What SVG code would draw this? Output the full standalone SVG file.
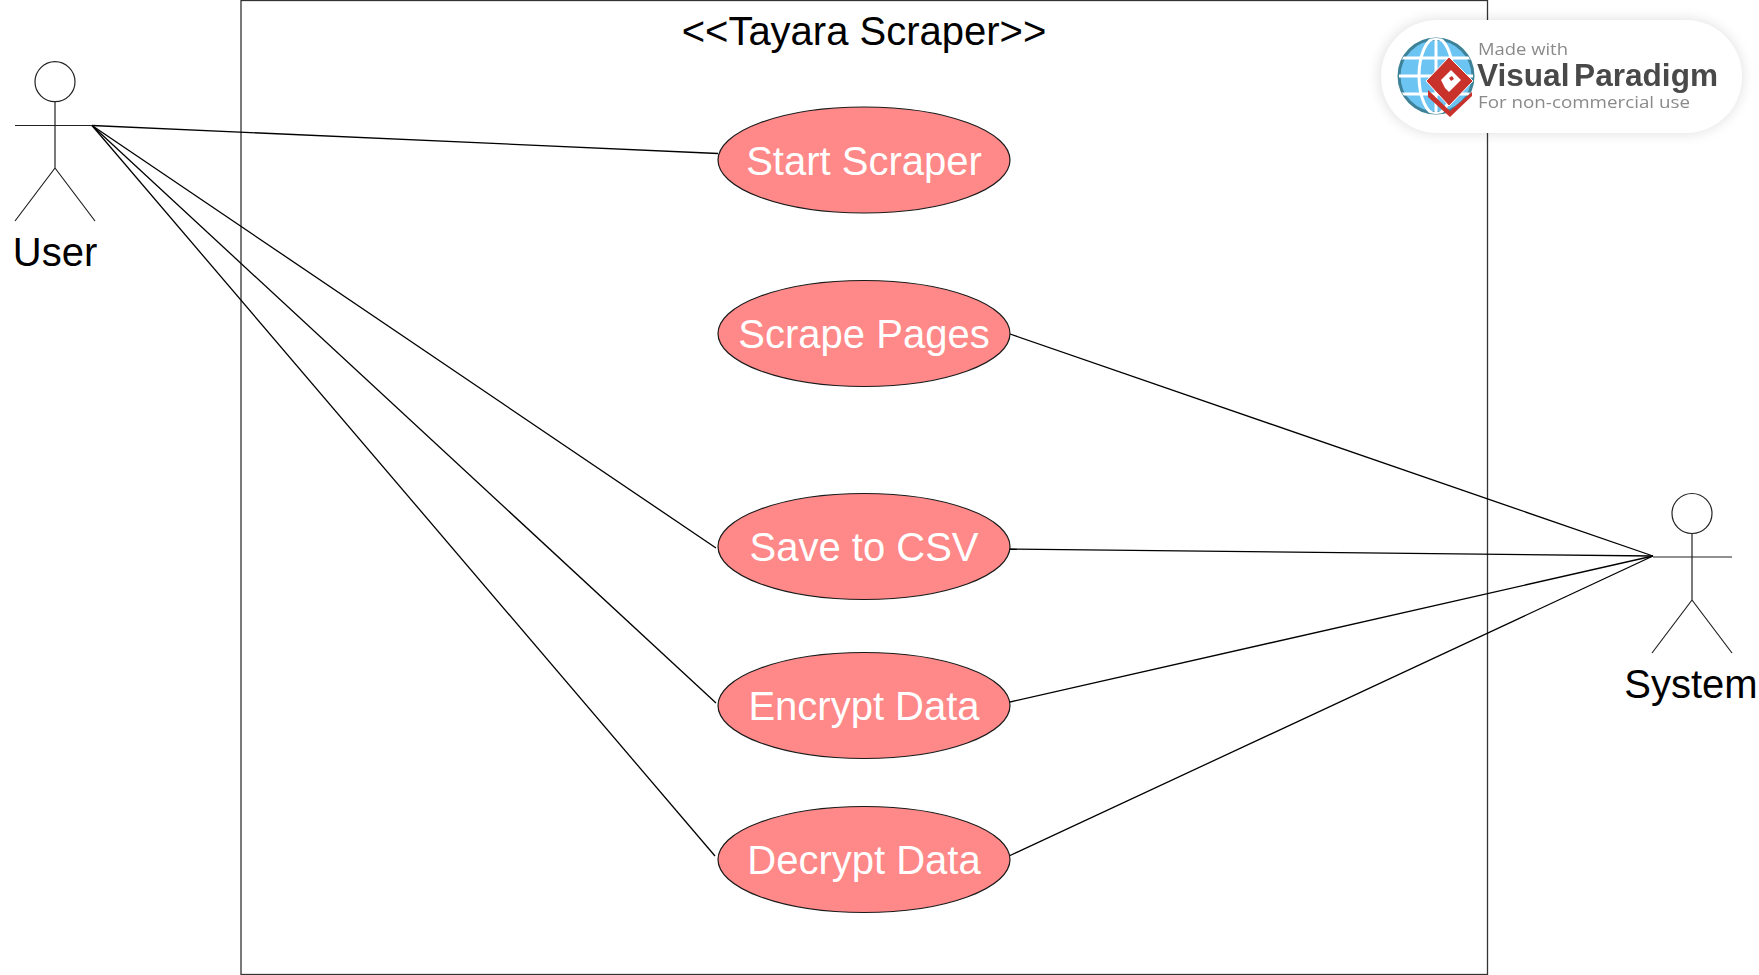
<svg xmlns="http://www.w3.org/2000/svg" width="1759" height="975" viewBox="0 0 1759 975">
<style>
text{font-family:"Liberation Sans",Arial,sans-serif;text-anchor:middle}
.lb{font-size:40px;fill:#000}
.uc{font-size:40px;fill:#fff}
.e{fill:#ff8888;stroke:#1a1a1a;stroke-width:1.2}
.l{fill:none;stroke:#000;stroke-width:1.3}
.a{fill:none;stroke:#222;stroke-width:1.2}
.bs{text-anchor:start;font-size:17px;fill:#8a8a8a;font-family:"Open Sans",sans-serif}
</style>
<defs>
<filter id="sh" x="-15%" y="-40%" width="130%" height="180%"><feGaussianBlur stdDeviation="7"/></filter>
<filter id="bl" x="-5%" y="-20%" width="110%" height="140%"><feGaussianBlur stdDeviation="0.5"/></filter>
<clipPath id="gc"><circle cx="1436" cy="76" r="38"/></clipPath>
</defs>
<rect width="1759" height="975" fill="#fff"/>
<g id="boundary">
<rect x="241" y="0.5" width="1246.5" height="974" fill="none" stroke="#333" stroke-width="1.3"/>
<text class="lb" x="864" y="45">&lt;&lt;Tayara Scraper&gt;&gt;</text>
</g>
<g id="connectors">
<path class="l" d="M92 125.5L718 153.5"/>
<path class="l" d="M92 125.5L716 548"/>
<path class="l" d="M92 125.5L716 703"/>
<path class="l" d="M92 125.5L715 856"/>
<path class="l" d="M1653 556L1010 334"/>
<path class="l" d="M1653 556L1010 549"/>
<path class="l" d="M1653 556L1010 702"/>
<path class="l" d="M1653 556L1009 856"/>
</g>
<g id="actor-user">
<circle class="a" cx="55" cy="81.7" r="20"/>
<path class="a" d="M55 102V168M15 125.5H92M55 168L15 221M55 168L95 221"/>
<text class="lb" x="55" y="266">User</text>
</g>
<g id="actor-system">
<circle class="a" cx="1692" cy="513.5" r="20"/>
<path class="a" d="M1692 533.5V600M1653 557H1732M1692 600L1652 653M1692 600L1732 653"/>
<text class="lb" x="1691" y="698">System</text>
</g>
<g id="uc-start"><ellipse class="e" cx="864" cy="160" rx="146" ry="53"/><text class="uc" x="864" y="175">Start Scraper</text></g>
<g id="uc-scrape"><ellipse class="e" cx="864" cy="333.5" rx="146" ry="53"/><text class="uc" x="864" y="348">Scrape Pages</text></g>
<g id="uc-save"><ellipse class="e" cx="864" cy="546.5" rx="146" ry="53"/><text class="uc" x="864" y="561">Save to CSV</text></g>
<g id="uc-encrypt"><ellipse class="e" cx="864" cy="705.5" rx="146" ry="53"/><text class="uc" x="864" y="720">Encrypt Data</text></g>
<g id="uc-decrypt"><ellipse class="e" cx="864" cy="859.5" rx="146" ry="53"/><text class="uc" x="864" y="874">Decrypt Data</text></g>
<g id="badge">
<rect x="1380" y="20" width="362" height="113" rx="56" fill="#000" opacity="0.13" filter="url(#sh)"/>
<rect x="1381" y="20" width="361" height="113" rx="56" fill="#fff"/>
<g filter="url(#bl)">
<circle cx="1436" cy="76" r="37" fill="#6cc4f2" stroke="#3e8299" stroke-width="3"/>
<g clip-path="url(#gc)" fill="none" stroke="#fff" stroke-width="3">
<path d="M1399 58H1473M1399 76H1473M1399 94H1473M1436 38V114"/>
<ellipse cx="1436" cy="76" rx="17" ry="38"/>
</g>
<path d="M1426 81L1449 57L1473 81L1449 106Z" fill="#c9302c" stroke="#fff" stroke-width="1"/>
<path d="M1428 90L1450 111L1472 92L1472 96L1450 117L1428 97Z" fill="#c9302c"/>
<path d="M1441 80L1451 70L1461 80L1453 88L1449 92L1445 88Z" fill="#fff"/>
<path d="M1449 78L1452 76L1454 79L1451 81Z" fill="#c9302c"/>
<text class="bs" x="1478" y="55" textLength="90" lengthAdjust="spacingAndGlyphs">Made with</text>
<text x="1477" y="86" textLength="241" lengthAdjust="spacingAndGlyphs" word-spacing="-4" style="text-anchor:start;font-size:31px;font-weight:bold;fill:#4a4a4a">Visual Paradigm</text>
<text class="bs" x="1478" y="108" textLength="212" lengthAdjust="spacingAndGlyphs">For non-commercial use</text>
</g>
</g>
</svg>
